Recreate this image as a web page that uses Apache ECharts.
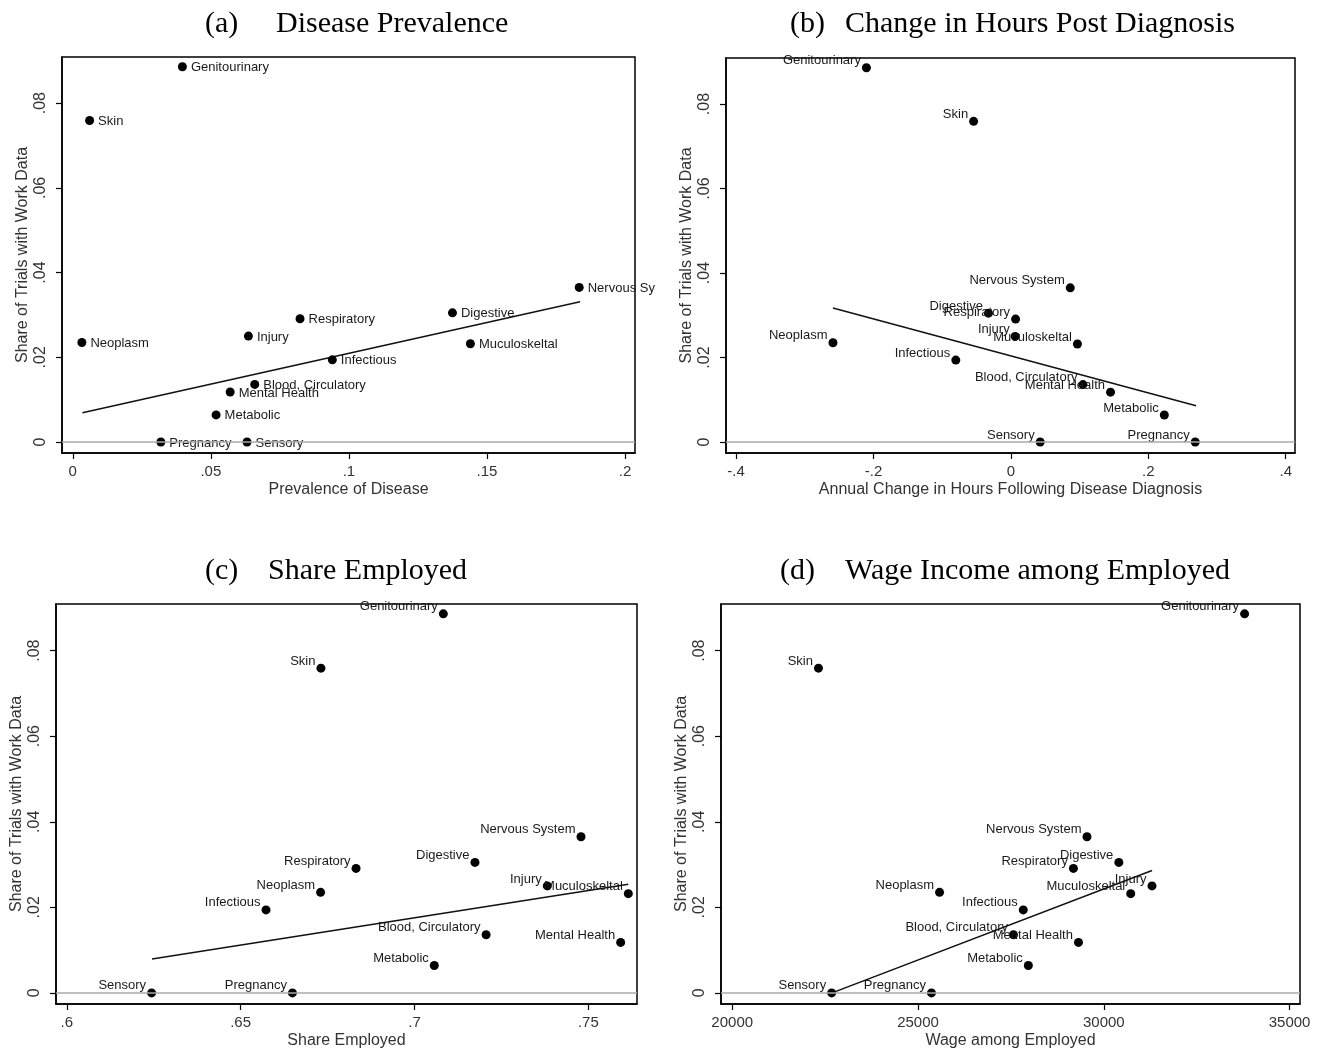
<!DOCTYPE html>
<html>
<head>
<meta charset="utf-8">
<script src="https://cdn.jsdelivr.net/npm/echarts@6/dist/echarts.min.js"></script>
<style>
  html, body { margin: 0; padding: 0; background: #fff; }
  #chart { width: 1331px; height: 1053px; }
</style>
</head>
<body>
<div id="chart"></div>
<script>
// Disease groups and the share of their clinical trials that collect work data
const conditions = ['Genitourinary', 'Skin', 'Nervous System', 'Digestive', 'Respiratory', 'Injury',
  'Neoplasm', 'Muculoskeltal', 'Infectious', 'Blood, Circulatory', 'Mental Health', 'Metabolic',
  'Pregnancy', 'Sensory'];
const shareTrialsWork = [0.0886, 0.0759, 0.0365, 0.0305, 0.0291, 0.0250, 0.0235, 0.0232, 0.0194,
  0.0136, 0.0118, 0.0064, 0, 0];

// Explanatory measures, one value per disease group (same order)
const prevalence = [0.0397, 0.0061, 0.1834, 0.1375, 0.0823, 0.0636, 0.0033, 0.1440, 0.0940,
  0.0659, 0.0570, 0.0519, 0.0319, 0.0631];
const hoursChange = [-0.2103, -0.0543, 0.0864, -0.0327, 0.0068, 0.0062, -0.259, 0.0968, -0.0802,
  0.1049, 0.145, 0.2233, 0.2683, 0.0426];
const shareEmployed = [0.7083, 0.6731, 0.7479, 0.7174, 0.6832, 0.7382, 0.6730, 0.7615, 0.6573,
  0.7206, 0.7593, 0.7057, 0.6649, 0.6244];
const wageEmployed = [33789, 22321, 29547, 30405, 29182, 31297, 25580, 30725, 27832, 27569,
  29318, 27969, 25362, 22676];

// Linear fit end points for each panel
const fitPrevalence = [[0.0035, 0.0069], [0.1837, 0.0331]];
const fitHours = [[-0.259, 0.0317], [0.2695, 0.0086]];
const fitEmployed = [[0.6245, 0.0079], [0.7615, 0.0254]];
const fitWage = [[22687, 0], [31297, 0.0286]];

// Axis tick values
const yTicks = [0, 0.02, 0.04, 0.06, 0.08];
const xTicksPrevalence = [0, 0.05, 0.1, 0.15, 0.2];
const xTicksHours = [-0.4, -0.2, 0, 0.2, 0.4];
const xTicksEmployed = [0.6, 0.65, 0.7, 0.75];
const xTicksWage = [20000, 25000, 30000, 35000];

// Panel headings and axis titles
const panelTags = ['(a)', '(b)', '(c)', '(d)'];
const panelNames = ['Disease Prevalence', 'Change in Hours Post Diagnosis', 'Share Employed',
  'Wage Income among Employed'];
const xTitles = ['Prevalence of Disease', 'Annual Change in Hours Following Disease Diagnosis',
  'Share Employed', 'Wage among Employed'];
const yTitle = 'Share of Trials with Work Data';

const SANS = "'Liberation Sans', Arial, sans-serif";
const SERIF = "'Liberation Serif', 'Times New Roman', serif";

// Stata-style numbers: drop the leading zero (".05", "-.2")
function stataNum(v) {
  if (Math.abs(v) < 1e-12) return '0';
  const s = String(+v.toFixed(6));
  return s.replace(/^(-?)0\./, '$1.');
}

const panels = [
  { xs: prevalence, fit: fitPrevalence, ticks: xTicksPrevalence, min: -0.0039, max: 0.2036,
    grid: { left: 62, top: 57, width: 573, height: 396 }, side: 'right', tagLeft: 205, nameLeft: 276, titleTop: 9 },
  { xs: hoursChange, fit: fitHours, ticks: xTicksHours, min: -0.4147, max: 0.4135,
    grid: { left: 726, top: 58, width: 569, height: 395 }, side: 'left', tagLeft: 790, nameLeft: 845, titleTop: 9 },
  { xs: shareEmployed, fit: fitEmployed, ticks: xTicksEmployed, min: 0.5969, max: 0.764,
    grid: { left: 56, top: 604, width: 581, height: 400 }, side: 'left', tagLeft: 205, nameLeft: 268, titleTop: 556 },
  { xs: wageEmployed, fit: fitWage, ticks: xTicksWage, min: 19698, max: 35280,
    grid: { left: 721, top: 604, width: 579, height: 400 }, side: 'left', tagLeft: 780, nameLeft: 845, titleTop: 556 }
];

const option = {
  animation: false,
  backgroundColor: '#fff',
  title: [],
  grid: [],
  xAxis: [],
  yAxis: [],
  series: []
};

panels.forEach((p, i) => {
  option.title.push({
    text: panelTags[i], left: p.tagLeft, top: p.titleTop, padding: 0,
    textStyle: { fontFamily: SERIF, fontSize: 30, fontWeight: 'normal', color: '#000' }
  });
  option.title.push({
    text: panelNames[i], left: p.nameLeft, top: p.titleTop, padding: 0,
    textStyle: { fontFamily: SERIF, fontSize: 30, fontWeight: 'normal', color: '#000' }
  });

  option.grid.push(Object.assign({
    show: true, borderColor: '#000', borderWidth: 1.5, backgroundColor: 'transparent', containLabel: false
  }, p.grid));

  option.xAxis.push({
    type: 'value', gridIndex: i, min: p.min, max: p.max,
    name: xTitles[i], nameLocation: 'middle', nameGap: 29,
    nameTextStyle: { fontFamily: SANS, fontSize: 16, color: '#333' },
    axisLine: { show: true, onZero: false, lineStyle: { color: '#000', width: 1.5 } },
    axisTick: { show: true, customValues: p.ticks, length: 6, lineStyle: { color: '#000', width: 1.2 } },
    axisLabel: { customValues: p.ticks, formatter: stataNum, fontFamily: SANS, fontSize: 15,
      color: '#333', margin: 11 },
    splitLine: { show: false }
  });

  option.yAxis.push({
    type: 'value', gridIndex: i, min: -0.0026, max: 0.0909,
    name: yTitle, nameLocation: 'middle', nameGap: 31,
    nameTextStyle: { fontFamily: SANS, fontSize: 16, color: '#333' },
    axisLine: { show: true, onZero: false, lineStyle: { color: '#000', width: 1.5 } },
    axisTick: { show: true, customValues: yTicks, length: 6, lineStyle: { color: '#000', width: 1.2 } },
    axisLabel: { customValues: yTicks, formatter: stataNum, rotate: 90, fontFamily: SANS, fontSize: 16,
      color: '#333', margin: 13 },
    splitLine: { show: false }
  });

  // Fitted line, with the reference line at zero
  option.series.push({
    type: 'line', xAxisIndex: i, yAxisIndex: i, z: 2,
    data: p.fit, symbol: 'none',
    lineStyle: { color: '#111', width: 1.5 },
    markLine: {
      silent: true, symbol: 'none', label: { show: false },
      lineStyle: { color: '#aaaaaa', width: 1.5, type: 'solid' },
      data: [{ yAxis: 0 }]
    }
  });

  const labelBase = p.side === 'right'
    ? { position: 'right', distance: 4, offset: [0, 1] }
    : { position: 'left', distance: 1, offset: [0, -7] };

  option.series.push({
    type: 'scatter', xAxisIndex: i, yAxisIndex: i, z: 3,
    symbol: 'circle', symbolSize: 9,
    itemStyle: { color: '#000', opacity: 1 },
    label: Object.assign({ show: true, formatter: '{b}', fontFamily: SANS, fontSize: 13, color: '#1a1a1a' }, labelBase),
    data: conditions.map((name, k) => {
      const item = { name: name, value: [p.xs[k], shareTrialsWork[k]] };
      // label of the right-most point runs off the edge of the first panel
      if (i === 0 && name === 'Nervous System') {
        item.label = { width: 69, overflow: 'truncate', ellipsis: '' };
      }
      return item;
    })
  });
});

const chart = echarts.init(document.getElementById('chart'), null, { renderer: 'canvas' });
chart.setOption(option);
</script>
</body>
</html>
